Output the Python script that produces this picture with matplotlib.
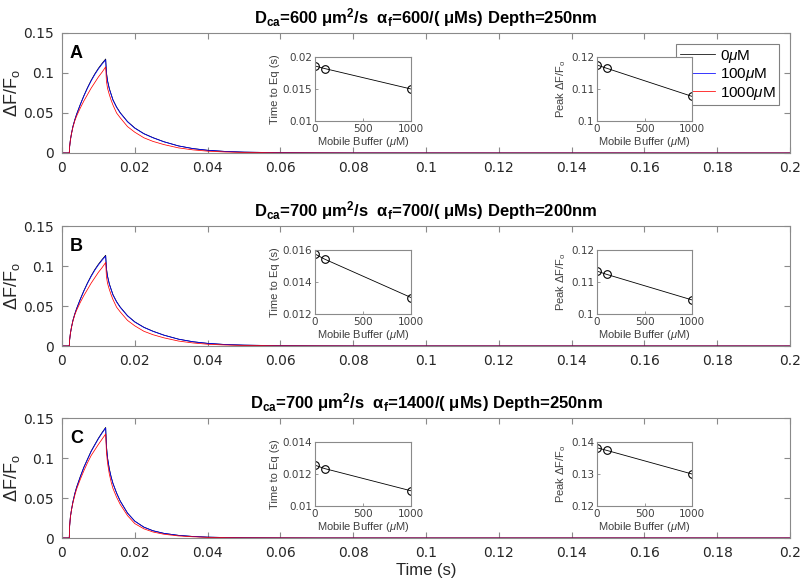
import matplotlib
matplotlib.use("Agg")
import matplotlib.pyplot as plt
from matplotlib.ticker import FuncFormatter

plt.rcParams['font.family'] = ['DejaVu Sans']
plt.rcParams['mathtext.fontset'] = 'custom'
plt.rcParams['mathtext.rm'] = 'Liberation Sans'
plt.rcParams['mathtext.it'] = 'Liberation Sans:italic'
plt.rcParams['mathtext.bf'] = 'Liberation Sans:bold'

# ---------------- data ----------------
time_s = [0, 0.0019, 0.0020, 0.0021, 0.0023, 0.0026, 0.0030, 0.0035, 0.0040,
          0.0050, 0.0060, 0.0070, 0.0080, 0.0090, 0.0100, 0.0110, 0.0120,
          0.0122, 0.0125, 0.0130, 0.0135, 0.0140, 0.0150, 0.0160, 0.0180, 0.0200,
          0.0225, 0.0250, 0.0280, 0.0320, 0.0360, 0.0400, 0.0450, 0.0500,
          0.0600, 0.0700, 0.0800, 0.2000]

series_labels = ['0$\\mu$M', '100$\\mu$M', '1000$\\mu$M']
series_colors = ['#000000', '#0000ff', '#ff0000']

A_0uM = [0, 0, 0, 0.0081, 0.0161, 0.0242, 0.0333, 0.0414, 0.0484,
         0.0605, 0.0716, 0.0817, 0.0908, 0.0988, 0.1059, 0.1120, 0.1175,
         0.1010, 0.0908, 0.0807, 0.0736, 0.0666, 0.0575, 0.0504, 0.0393, 0.0313,
         0.0242, 0.0192, 0.0141, 0.0089, 0.0055, 0.0034, 0.0019, 0.0011,
         0.0004, 0.00015, 0.00005, 0]
A_100uM = [0, 0, 0, 0.0080, 0.0160, 0.0240, 0.0330, 0.0410, 0.0480,
           0.0600, 0.0710, 0.0810, 0.0900, 0.0980, 0.1050, 0.1110, 0.1165,
           0.1000, 0.0900, 0.0800, 0.0730, 0.0660, 0.0570, 0.0500, 0.0390, 0.0310,
           0.0240, 0.0190, 0.0140, 0.0088, 0.0055, 0.0034, 0.0019, 0.0011,
           0.0004, 0.00015, 0.00005, 0]
A_1000uM = [0, 0, 0, 0.0080, 0.0160, 0.0240, 0.0320, 0.0400, 0.0460,
            0.0560, 0.0650, 0.0730, 0.0810, 0.0880, 0.0950, 0.1010, 0.1077,
            0.0900, 0.0810, 0.0730, 0.0660, 0.0600, 0.0500, 0.0440, 0.0330, 0.0260,
            0.0190, 0.0145, 0.0105, 0.0064, 0.0039, 0.0023, 0.0012, 0.0007,
            0.0002, 0.0001, 0, 0]

B_0uM = [0, 0, 0, 0.0078, 0.0155, 0.0234, 0.0321, 0.0400, 0.0467,
         0.0584, 0.0691, 0.0789, 0.0877, 0.0955, 0.1022, 0.1081, 0.1134,
         0.0974, 0.0877, 0.0779, 0.0710, 0.0643, 0.0555, 0.0487, 0.0379, 0.0302,
         0.0234, 0.0185, 0.0136, 0.0086, 0.0053, 0.0033, 0.0018, 0.0011,
         0.0004, 0.00015, 0.00005, 0]
B_100uM = [0, 0, 0, 0.0077, 0.0154, 0.0232, 0.0318, 0.0396, 0.0463,
           0.0579, 0.0685, 0.0782, 0.0869, 0.0946, 0.1013, 0.1071, 0.1124,
           0.0965, 0.0869, 0.0772, 0.0704, 0.0637, 0.0550, 0.0483, 0.0376, 0.0299,
           0.0232, 0.0183, 0.0135, 0.0085, 0.0053, 0.0033, 0.0018, 0.0011,
           0.0004, 0.00015, 0.00005, 0]
B_1000uM = [0, 0, 0, 0.0078, 0.0155, 0.0233, 0.0310, 0.0388, 0.0446,
            0.0543, 0.0630, 0.0707, 0.0785, 0.0853, 0.0921, 0.0979, 0.1044,
            0.0872, 0.0785, 0.0707, 0.0640, 0.0581, 0.0485, 0.0426, 0.0320, 0.0252,
            0.0184, 0.0141, 0.0102, 0.0062, 0.0038, 0.0022, 0.0012, 0.0007,
            0.0002, 0.0001, 0, 0]

C_0uM = [0, 0, 0, 0.0151, 0.0262, 0.0352, 0.0453, 0.0553, 0.0634,
         0.0765, 0.0885, 0.0986, 0.1086, 0.1167, 0.1247, 0.1318, 0.1382,
         0.1157, 0.1006, 0.0865, 0.0765, 0.0684, 0.0563, 0.0463, 0.0312, 0.0211,
         0.0136, 0.0091, 0.0058, 0.0033, 0.0019, 0.0011, 0.0006, 0.0003,
         0.0001, 0, 0, 0]
C_100uM = [0, 0, 0, 0.0150, 0.0260, 0.0350, 0.0450, 0.0550, 0.0630,
           0.0760, 0.0880, 0.0980, 0.1080, 0.1160, 0.1240, 0.1310, 0.1374,
           0.1150, 0.1000, 0.0860, 0.0760, 0.0680, 0.0560, 0.0460, 0.0310, 0.0210,
           0.0135, 0.0090, 0.0058, 0.0033, 0.0019, 0.0011, 0.0006, 0.0003,
           0.0001, 0, 0, 0]
C_1000uM = [0, 0, 0, 0.0150, 0.0260, 0.0350, 0.0440, 0.0530, 0.0610,
            0.0730, 0.0840, 0.0940, 0.1030, 0.1100, 0.1170, 0.1235, 0.1300,
            0.1080, 0.0940, 0.0800, 0.0700, 0.0620, 0.0510, 0.0420, 0.0280, 0.0180,
            0.0115, 0.0075, 0.0047, 0.0026, 0.0015, 0.0008, 0.0004, 0.0002,
            0.0001, 0, 0, 0]

mobile_buffer = [0, 100, 1000]
A_time_to_eq = [0.0186, 0.0182, 0.0150]
A_peak = [0.1175, 0.1165, 0.1077]
B_time_to_eq = [0.01575, 0.01543, 0.01303]
B_peak = [0.1134, 0.1124, 0.1044]
C_time_to_eq = [0.01255, 0.01234, 0.01095]
C_peak = [0.1382, 0.1374, 0.1300]

panel_letters = ['A', 'B', 'C']
titles = [
    r'$\mathbf{D_{ca}}$=600 $\mathbf{\mu}$m$^{\mathbf{2}}$/s  $\mathbf{\alpha_f}$=600/( $\mathbf{\mu}$Ms) Depth=250nm',
    r'$\mathbf{D_{ca}}$=700 $\mathbf{\mu}$m$^{\mathbf{2}}$/s  $\mathbf{\alpha_f}$=700/( $\mathbf{\mu}$Ms) Depth=200nm',
    r'$\mathbf{D_{ca}}$=700 $\mathbf{\mu}$m$^{\mathbf{2}}$/s  $\mathbf{\alpha_f}$=1400/( $\mathbf{\mu}$Ms) Depth=250nm',
]
x_ticks = [0, 0.02, 0.04, 0.06, 0.08, 0.1, 0.12, 0.14, 0.16, 0.18, 0.2]
y_ticks = [0, 0.05, 0.1, 0.15]
teq_ticks = [[0.01, 0.015, 0.02], [0.012, 0.014, 0.016], [0.01, 0.012, 0.014]]
peak_ticks = [[0.1, 0.11, 0.12], [0.1, 0.11, 0.12], [0.12, 0.13, 0.14]]

curves = [[A_0uM, A_100uM, A_1000uM], [B_0uM, B_100uM, B_1000uM], [C_0uM, C_100uM, C_1000uM]]
teqs = [A_time_to_eq, B_time_to_eq, C_time_to_eq]
peaks = [A_peak, B_peak, C_peak]

# ---------------- figure ----------------
W, H = 800, 585
fig = plt.figure(figsize=(8, 5.85), dpi=100)

def fax(l, t, r, b):
    return fig.add_axes([l / W, 1 - b / H, (r - l) / W, (b - t) / H])

spine_col = '#8a8a8a'
txt_col = '#262626'
gfmt = FuncFormatter(lambda v, p: ('%g' % v))

main_tops = [33, 226, 418]
for i in range(3):
    top = main_tops[i]
    ax = fax(62, top, 790, top + 120)
    for k in range(3):
        ax.plot(time_s, curves[i][k], color=series_colors[k], lw=0.55,
                label=series_labels[k])
    ax.set_xlim(0, 0.2)
    ax.set_ylim(0, 0.15)
    ax.set_xticks(x_ticks)
    ax.set_yticks(y_ticks)
    ax.xaxis.set_major_formatter(gfmt)
    ax.yaxis.set_major_formatter(gfmt)
    ax.tick_params(direction='in', length=4, width=0.8, color=spine_col,
                   labelcolor=txt_col, labelsize=10, top=True, right=True, pad=6)
    for s in ax.spines.values():
        s.set_color(spine_col)
        s.set_linewidth(0.8)
    ax.set_ylabel(r'$\Delta$F/F$_{\rm o}$', fontsize=13, color=txt_col, labelpad=1,
                  family='Liberation Sans')
    ax.set_title(titles[i], fontsize=12, fontweight='bold', family='Liberation Sans',
                 pad=7)
    ax.text(0.011, 0.83, panel_letters[i], transform=ax.transAxes, fontsize=13,
            fontweight='bold', va='center', ha='left', family='Liberation Sans')
    if i == 0:
        leg = ax.legend(loc='upper right', handlelength=2.3,
                        handletextpad=0.3, borderaxespad=0.7, borderpad=0.25,
                        labelspacing=0.1, fancybox=False, framealpha=1,
                        edgecolor='#808080', prop={'family': 'Liberation Sans', 'size': 11})
        leg.get_frame().set_linewidth(0.8)
    if i == 2:
        ax.set_xlabel('Time (s)', fontsize=12, color=txt_col, labelpad=2,
                      family='Liberation Sans')

    it = top + 24
    for j, (xl, xr) in enumerate([(315, 411), (597, 692)]):
        iax = fax(xl, it, xr, it + 64)
        yv = teqs[i] if j == 0 else peaks[i]
        yt = teq_ticks[i] if j == 0 else peak_ticks[i]
        iax.plot(mobile_buffer, yv, color='black', lw=0.6, marker='o', ms=5.5,
                 mfc='none', mec='black', mew=0.8)
        iax.set_xlim(0, 1000)
        iax.set_ylim(yt[0], yt[-1])
        iax.set_xticks([0, 500, 1000])
        iax.set_yticks(yt)
        iax.xaxis.set_major_formatter(gfmt)
        iax.yaxis.set_major_formatter(gfmt)
        iax.tick_params(direction='in', length=2, width=0.6, color=spine_col,
                        labelcolor='#404040', labelsize=7.5, pad=2)
        for s in iax.spines.values():
            s.set_color(spine_col)
            s.set_linewidth(0.8)
        iax.set_xlabel('Mobile Buffer ($\\mu$M)', fontsize=8, color='#404040',
                       labelpad=1, family='Liberation Sans')
        if j == 0:
            iax.set_ylabel('Time to Eq (s)', fontsize=8, color='#404040', labelpad=2,
                           family='Liberation Sans')
        else:
            iax.set_ylabel(r'Peak $\Delta$F/F$_{\rm o}$', fontsize=8, color='#404040',
                           labelpad=2, family='Liberation Sans')

fig.savefig('out.png', dpi=100)
